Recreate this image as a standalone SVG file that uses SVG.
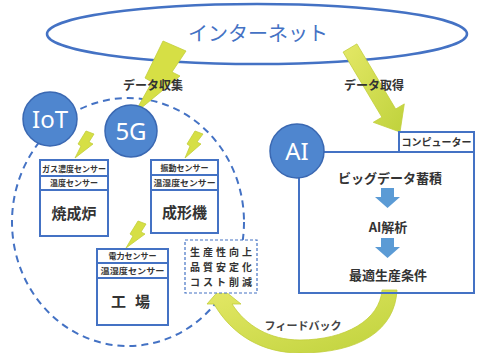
<svg xmlns="http://www.w3.org/2000/svg" width="480" height="353" viewBox="0 0 480 353">
<style>
.jp{font-family:"Noto Sans CJK JP","Noto Sans",sans-serif;fill:#333}
.b{font-weight:bold}
.circ{fill:#4F86CF;stroke:#3A68B2;stroke-width:1.5}
.ct{font-family:"Noto Sans","Liberation Sans",sans-serif;fill:#fff;font-size:24px;text-anchor:middle}
.box{fill:#fff;stroke:#4472C4;stroke-width:2}
.frame{fill:none;stroke:#4472C4;stroke-width:2}
.ln{stroke:#4472C4;stroke-width:2}
.bolt{fill:#D6DF45;stroke:#C2CE3A;stroke-width:0.8}
.sen{font-size:8px;text-anchor:middle;font-weight:bold}
.main{font-size:15px;text-anchor:middle}
.blue{fill:#5B9BD5}
.eff{font-size:10px;text-anchor:middle;font-weight:bold}
</style>
<defs>
<linearGradient id="yg" x1="0" y1="0" x2="1" y2="1">
<stop offset="0" stop-color="#E4E866"/>
<stop offset="1" stop-color="#BFD23C"/>
</linearGradient>
</defs>
<rect width="480" height="353" fill="#fff"/>

<g id="internet">
<ellipse cx="257" cy="34" rx="210" ry="30" fill="#fff" stroke="#4472C4" stroke-width="2.5"/>
<text x="258" y="41" class="jp" style="fill:#4472C4;font-size:20px;text-anchor:middle">インターネット</text>
</g>

<g id="connectors">
<ellipse cx="128" cy="222" rx="116" ry="124" fill="none" stroke="#4472C4" stroke-width="2" stroke-dasharray="7 5"/>
<polygon class="bolt" points="163,41 186,51 172,72 180,76 134,114 152,82 145,78"/>
<path d="M 343.1 52.1 L 356.9 43.9 L 395.7 109 L 404.3 103.9 L 400 132 L 373.3 122.3 L 381.9 117.2 Z" fill="url(#yg)" stroke="#C2CE3A" stroke-width="0.8"/>
<polygon class="bolt" points="86,131 94,134 89,142 93,144 75,158 81,146 78,144"/>
<polygon class="bolt" points="195,131 203,134 197,142 201,144 185,158 190,146 187,144"/>
<polygon class="bolt" points="138,221 146,224 141,232 145,234 126,248 133,236 130,234"/>
<path d="M 382 290 L 397 290 C 395 330 360 353 300 353 C 262 353 232 335 214 304 L 207 304 L 221 288 L 241 304 L 232 304 C 246 326 270 340 300 340 C 345 340 380 320 382 290 Z" fill="url(#yg)" stroke="#C2CE3A" stroke-width="0.8"/>
<path class="blue" d="M 381 188 H 394 V 197 H 400 L 387.5 208 L 375 197 H 381 Z"/>
<path class="blue" d="M 381 238 H 394 V 247 H 400 L 387.5 258 L 375 247 H 381 Z"/>
</g>

<text x="153" y="90" class="jp b" style="font-size:12px;text-anchor:middle">データ収集</text>
<text x="374" y="90" class="jp b" style="font-size:12px;text-anchor:middle">データ取得</text>
<text x="303" y="330" class="jp b" style="font-size:11px;text-anchor:middle;fill:#444">フィードバック</text>

<g id="iot">
<circle class="circ" cx="50" cy="119" r="27"/>
<text x="50" y="128" class="ct">IoT</text>
</g>
<g id="5g">
<circle class="circ" cx="131" cy="131" r="26"/>
<text x="131" y="140" class="ct">5G</text>
</g>

<g id="furnace">
<rect class="box" x="40" y="160" width="68" height="76"/>
<line class="ln" x1="40" y1="176" x2="108" y2="176"/>
<line class="ln" x1="40" y1="190" x2="108" y2="190"/>
<text x="74" y="172" class="jp sen" textLength="64" lengthAdjust="spacingAndGlyphs">ガス濃度センサー</text>
<text x="74" y="186" class="jp sen">温度センサー</text>
<text x="74" y="219" class="jp main b">焼成炉</text>
</g>

<g id="molding">
<rect class="box" x="151" y="160" width="67" height="73"/>
<line class="ln" x1="151" y1="175" x2="218" y2="175"/>
<line class="ln" x1="151" y1="190" x2="218" y2="190"/>
<text x="184.5" y="171" class="jp sen">振動センサー</text>
<text x="184.5" y="186" class="jp sen" textLength="62" lengthAdjust="spacingAndGlyphs">温湿度センサー</text>
<text x="184.5" y="218" class="jp main b">成形機</text>
</g>

<g id="factory">
<rect class="box" x="97" y="249" width="71" height="76"/>
<line class="ln" x1="97" y1="263" x2="168" y2="263"/>
<line class="ln" x1="97" y1="278" x2="168" y2="278"/>
<text x="132.5" y="259" class="jp sen">電力センサー</text>
<text x="132.5" y="274" class="jp sen" textLength="64" lengthAdjust="spacingAndGlyphs">温湿度センサー</text>
<text x="135" y="307" class="jp main b" style="letter-spacing:9px">工場</text>
</g>

<g id="effects">
<rect x="185" y="240" width="72" height="53" fill="#fff" stroke="#4472C4" stroke-width="1.2" stroke-dasharray="3 2"/>
<text x="221" y="256" class="jp eff" textLength="62" lengthAdjust="spacing">生産性向上</text>
<text x="221" y="271" class="jp eff" textLength="62" lengthAdjust="spacing">品質安定化</text>
<text x="221" y="286" class="jp eff" textLength="62" lengthAdjust="spacing">コスト削減</text>
</g>

<g id="computer">
<rect class="box" x="399" y="132" width="75" height="20"/>
<text x="436.5" y="146" class="jp b" style="font-size:10px;text-anchor:middle">コンピューター</text>
<rect class="frame" x="299" y="152" width="175" height="141"/>
<text x="390" y="183" class="jp b" style="font-size:13px;text-anchor:middle">ビッグデータ蓄積</text>
<text x="388" y="232" class="jp b" style="font-size:13px;text-anchor:middle">AI解析</text>
<text x="388" y="280" class="jp b" style="font-size:13px;text-anchor:middle">最適生産条件</text>
</g>

<g id="ai">
<circle class="circ" cx="297" cy="151" r="27"/>
<text x="297" y="160" class="ct">AI</text>
</g>
</svg>
